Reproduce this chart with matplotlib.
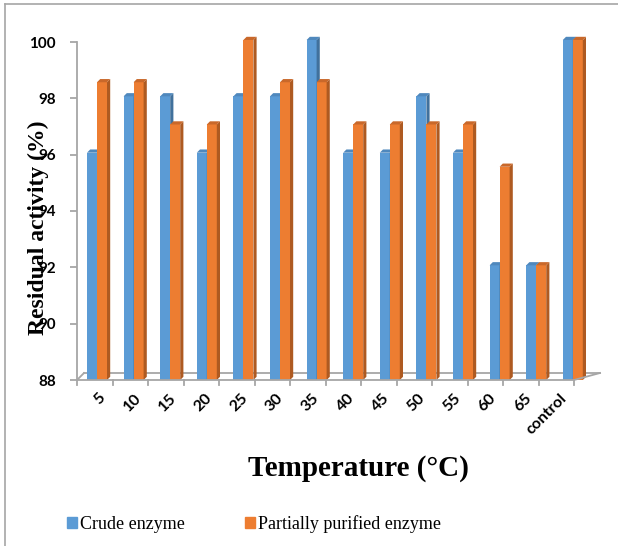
import numpy as np
import matplotlib.pyplot as plt
from matplotlib.patches import Polygon, Rectangle
from matplotlib.lines import Line2D

categories = ['5', '10', '15', '20', '25', '30', '35', '40', '45', '50', '55', '60', '65', 'control']
crude = [96, 98, 98, 96, 98, 98, 100, 96, 96, 98, 96, 92, 92, 100]
partial = [98.5, 98.5, 97, 97, 100, 98.5, 98.5, 97, 97, 97, 97, 95.5, 92, 100]
yticks = [88, 90, 92, 94, 96, 98, 100]

blue, blue_side, blue_top = '#5B9BD5', '#41719C', '#4F88BD'
orange, orange_side, orange_top = '#ED7D31', '#AE5A21', '#C9682A'
grey = '#A6A6A6'

W, H = 618, 546
fig = plt.figure(figsize=(W / 100, H / 100), dpi=100)

# axes in pixel terms: bars centred at 97 + 36.6*i, y 88 -> 380px, 100 -> 42px
step = 36.6
x0 = 97
ax_left, ax_right = 77, 600
ax = fig.add_axes([ax_left / W, 1 - 380 / H, (ax_right - ax_left) / W, (380 - 42) / H])
ax.set_xlim((ax_left - x0) / step, (ax_right - x0) / step)
ax.set_ylim(88, 100)
for s in ax.spines.values():
    s.set_visible(False)
ax.set_xticks([])

def px2x(p):
    return (p - x0) / step

ypx = (100 - 88) / (380 - 42)  # data units per pixel
bw = 10 / step
dx, dy = 3.2 / step, 3.2 * ypx
lift = 2 * ypx

x = np.arange(len(categories))

def bar3d(xl, val, face, side, top):
    y1 = val + lift
    ax.add_patch(Rectangle((xl, 88), bw, y1 - 88, facecolor=face, edgecolor='none', zorder=3, clip_on=False))
    ax.add_patch(Polygon([(xl + bw, 88), (xl + bw + dx, 88 + dy), (xl + bw + dx, y1 + dy), (xl + bw, y1)],
                         closed=True, facecolor=side, edgecolor='none', zorder=3, clip_on=False))
    ax.add_patch(Polygon([(xl, y1), (xl + dx, y1 + dy), (xl + bw + dx, y1 + dy), (xl + bw, y1)],
                         closed=True, facecolor=top, edgecolor='none', zorder=3, clip_on=False))

for i in x:
    bar3d(i - bw, crude[i], blue, blue_side, blue_top)
    bar3d(i, partial[i], orange, orange_side, orange_top)

# floor of the 3D plot
front_l, front_r = px2x(77), px2x(574)
back_l, back_r = px2x(84), px2x(600)
yf, yb = 88, 88 + 7 * ypx
kw = dict(color=grey, lw=1.3, clip_on=False, zorder=4)
ax.plot([front_l, front_r], [yf, yf], **kw)
ax.plot([back_l, back_r], [yb, yb], color=grey, lw=1.3, clip_on=False, zorder=2)
ax.plot([front_l, back_l], [yf, yb], **kw)
ax.plot([front_r, back_r], [yf, yb], **kw)
for k in range(len(categories) + 1):
    xt = px2x(77 + 35.5 * k)
    ax.plot([xt, xt], [yf, yf - 5 * ypx], **kw)

# y axis
ax.plot([front_l, front_l], [88, 100], **kw)
ax.set_yticks(yticks)
ax.tick_params(axis='y', length=5, width=1.3, color=grey, pad=10)
ax.set_yticklabels([str(t) for t in yticks], fontfamily='Lato', fontweight='bold', fontsize=11)

# category labels under the front edge
for i, c in enumerate(categories):
    xc = px2x(94.75 + 35.5 * i)
    ax.text(xc + 0.1, yf - 11 * ypx, c, rotation=45, ha='right', va='top', rotation_mode='anchor',
            fontfamily='Lato', fontweight='bold', fontsize=11.5, clip_on=False)

fig.text(38 / W, 1 - 228 / H, 'Residual activity (%)', rotation=90, ha='center', va='center',
         fontfamily='Liberation Serif', fontweight='bold', fontsize=17)
fig.text(358 / W, 1 - 468 / H, 'Temperature (\u00b0C)', ha='center', va='center',
         fontfamily='Liberation Serif', fontweight='bold', fontsize=21)

handles = [Rectangle((0, 0), 1, 1, color=blue), Rectangle((0, 0), 1, 1, color=orange)]
fig.legend(handles, ['Crude enzyme', 'Partially purified enzyme'], loc='center',
           bbox_to_anchor=(254 / W, 1 - 524 / H), ncol=2, frameon=False,
           prop={'family': 'Liberation Serif', 'size': 13},
           handlelength=0.55, handleheight=0.55, handletextpad=0.2, columnspacing=3.3)

# chart frame
fig.add_artist(Line2D([4.5 / W, 4.5 / W], [0, 1 - 4 / H], color=grey, lw=1.2))
fig.add_artist(Line2D([4.5 / W, 1], [1 - 4 / H, 1 - 4 / H], color=grey, lw=1.2))

fig.savefig('out.png', dpi=100)
